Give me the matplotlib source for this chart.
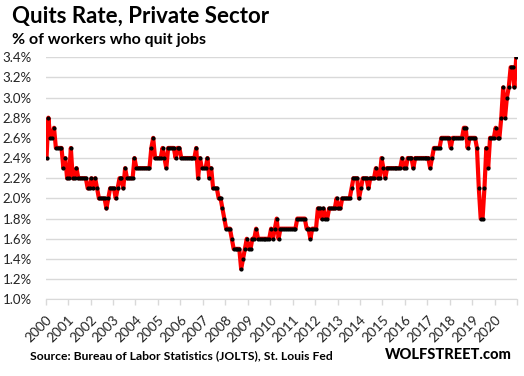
import matplotlib
matplotlib.use("Agg")
import matplotlib.pyplot as plt
from matplotlib.ticker import FuncFormatter

# quits rate, private sector, monthly from Dec 2000 (%)
quits = [
    2.4, 2.8, 2.6, 2.6, 2.7, 2.5, 2.5, 2.5, 2.5, 2.3, 2.4, 2.2,
    2.2, 2.5, 2.2, 2.2, 2.3, 2.2, 2.2, 2.2, 2.2, 2.2, 2.1, 2.1,
    2.2, 2.1, 2.2, 2.1, 2.0, 2.0, 2.0, 2.0, 1.9, 2.0, 2.1, 2.1,
    2.1, 2.0, 2.1, 2.2, 2.2, 2.1, 2.3, 2.2, 2.2, 2.2, 2.2, 2.4,
    2.3, 2.3, 2.3, 2.3, 2.3, 2.3, 2.3, 2.3, 2.5, 2.6, 2.4, 2.4,
    2.4, 2.4, 2.5, 2.4, 2.3, 2.5, 2.5, 2.5, 2.5, 2.4, 2.5, 2.5,
    2.4, 2.4, 2.4, 2.4, 2.4, 2.4, 2.4, 2.4, 2.5, 2.2, 2.4, 2.3,
    2.3, 2.3, 2.4, 2.2, 2.3, 2.1, 2.1, 2.1, 2.0, 2.0, 1.9, 1.8,
    1.7, 1.7, 1.7, 1.6, 1.5, 1.5, 1.5, 1.5, 1.3, 1.4, 1.5, 1.6,
    1.5, 1.5, 1.6, 1.6, 1.7, 1.6, 1.6, 1.6, 1.6, 1.6, 1.6, 1.6,
    1.7, 1.6, 1.7, 1.8, 1.6, 1.7, 1.7, 1.7, 1.7, 1.7, 1.7, 1.7,
    1.7, 1.7, 1.8, 1.8, 1.8, 1.8, 1.8, 1.7, 1.7, 1.6, 1.7, 1.7,
    1.7, 1.9, 1.9, 1.8, 1.9, 1.8, 1.8, 1.9, 1.9, 1.9, 1.9, 2.0,
    1.9, 1.9, 2.0, 2.0, 2.0, 2.0, 2.0, 2.1, 2.2, 2.2, 2.2, 2.0,
    2.1, 2.2, 2.2, 2.2, 2.1, 2.2, 2.2, 2.2, 2.3, 2.2, 2.2, 2.4,
    2.3, 2.2, 2.3, 2.3, 2.3, 2.3, 2.3, 2.3, 2.3, 2.3, 2.4, 2.3,
    2.3, 2.4, 2.4, 2.4, 2.3, 2.4, 2.4, 2.4, 2.4, 2.4, 2.4, 2.4,
    2.4, 2.3, 2.4, 2.5, 2.5, 2.5, 2.5, 2.6, 2.6, 2.6, 2.6, 2.6,
    2.5, 2.6, 2.6, 2.6, 2.6, 2.6, 2.6, 2.7, 2.7, 2.5, 2.6, 2.6,
    2.6, 2.6, 2.5, 2.1, 1.8, 1.8, 2.1, 2.5, 2.3, 2.6, 2.6, 2.6,
    2.7, 2.6, 2.6, 2.8, 3.1, 2.8, 3.0, 3.1, 3.3, 3.3, 3.1, 3.4,
]
years = list(range(2000, 2021))
yticks = [1.0, 1.2, 1.4, 1.6, 1.8, 2.0, 2.2, 2.4, 2.6, 2.8, 3.0, 3.2, 3.4]

plt.rcParams['font.family'] = ['Lato', 'DejaVu Sans']

fig = plt.figure(figsize=(5.24, 3.76), dpi=100)
ax = fig.add_axes([0.087, 0.204, 0.900, 0.644])

x = list(range(len(quits)))
ax.plot(x, quits, color='red', lw=3.0, zorder=3)
ax.plot(x, quits, 'o', color='black', ms=2.0, zorder=4)

ax.set_ylim(1.0, 3.4)
ax.set_xlim(-0.5, 251.5)
ax.set_yticks(yticks)
ax.yaxis.set_major_formatter(FuncFormatter(lambda v, p: '%.1f%%' % v))
ax.grid(axis='y', color='#d9d9d9', lw=1)
ax.set_axisbelow(True)

# year ticks, plus one at the end without a label
tick_pos = [-0.5 + 12 * k for k in range(len(years) + 1)]
ax.set_xticks(tick_pos)
ax.set_xticklabels([str(y) for y in years] + [''], rotation=45, ha='right',
                   rotation_mode='anchor', fontsize=9.8, color='#222222')
ax.tick_params(axis='x', length=4, width=1, color='#d9d9d9', pad=6)
ax.tick_params(axis='y', length=0, labelsize=9.5, labelcolor='#222222', pad=10)

for s in ['top', 'right', 'left']:
    ax.spines[s].set_visible(False)
ax.spines['bottom'].set_color('#d9d9d9')

fig.text(0.023, 0.94, 'Quits Rate, Private Sector', fontsize=16, fontweight='bold')
fig.text(0.023, 0.882, '% of workers who quit jobs', fontsize=11.5, fontweight='bold')
fig.text(0.057, 0.045, 'Source: Bureau of Labor Statistics (JOLTS), St. Louis Fed',
         fontsize=8.7, fontweight='bold')
fig.text(0.976, 0.045, 'WOLFSTREET.com', fontsize=10.5, fontweight='black', ha='right')

fig.savefig('out.png', dpi=100)
